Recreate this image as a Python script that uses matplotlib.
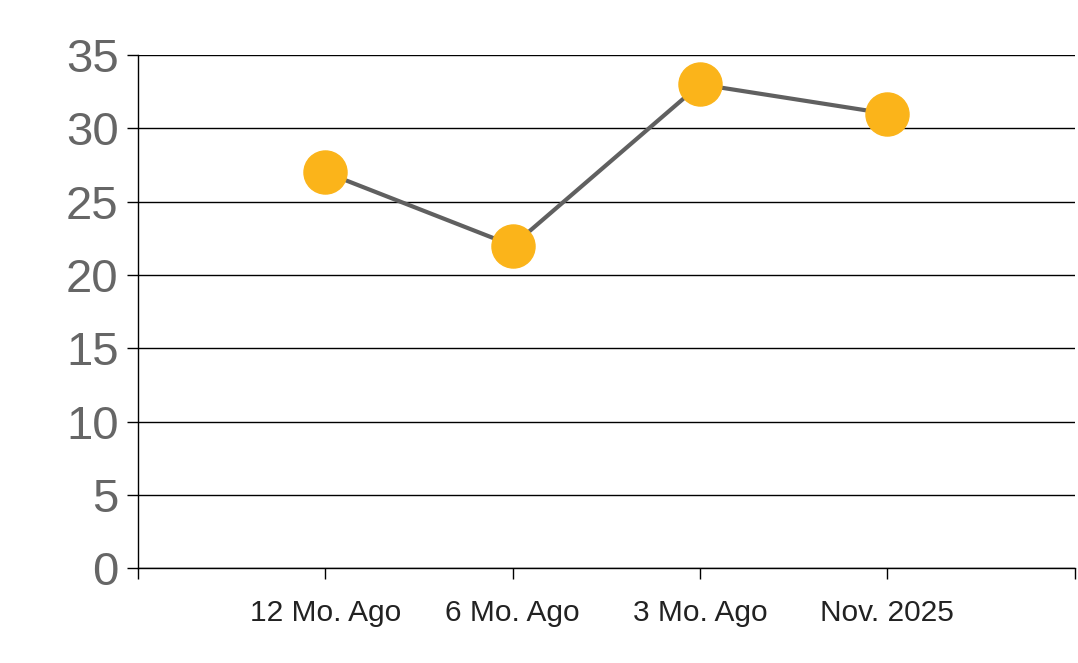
#!/usr/bin/env python3

import matplotlib
matplotlib.use('Agg')
import matplotlib.pyplot as plt

# data
categories = ['12 Mo. Ago', '6 Mo. Ago', '3 Mo. Ago', 'Nov. 2025']
values = [27, 22, 33, 31]
y_ticks = [0, 5, 10, 15, 20, 25, 30, 35]

plt.rcParams['font.family'] = ['Liberation Sans', 'DejaVu Sans']

fig = plt.figure(figsize=(10.78, 6.63), dpi=100)
ax = fig.add_axes([0.128, 0.143, 0.869, 0.774])

xs = list(range(1, len(categories) + 1))
ax.plot(xs, values, color='#606060', linewidth=3, zorder=3)
ax.plot(xs, values, linestyle='none', marker='o', markersize=31,
        markerfacecolor='#FBB41A', markeredgecolor='#FBB41A', zorder=4)

ax.set_xlim(0, len(categories) + 1)
ax.set_ylim(0, 35)

# ticks at every category boundary, labels under the points only
ax.set_xticks(range(0, len(categories) + 2))
ax.set_xticklabels([''] + categories + [''])
ax.set_yticks(y_ticks)
ax.set_yticklabels([str(v) for v in y_ticks])

ax.tick_params(axis='x', direction='out', length=8, width=1, color='black',
               labelsize=21.5, labelcolor='#222222', pad=14)
ax.tick_params(axis='y', direction='out', length=8, width=1, color='black',
               labelsize=34, labelcolor='#666666', pad=6)

ax.grid(axis='y', color='black', linewidth=1)
ax.set_axisbelow(True)

for side in ['top', 'right']:
    ax.spines[side].set_visible(False)
ax.spines['left'].set_linewidth(1)
ax.spines['bottom'].set_linewidth(1)

fig.savefig('out.png', dpi=100)
